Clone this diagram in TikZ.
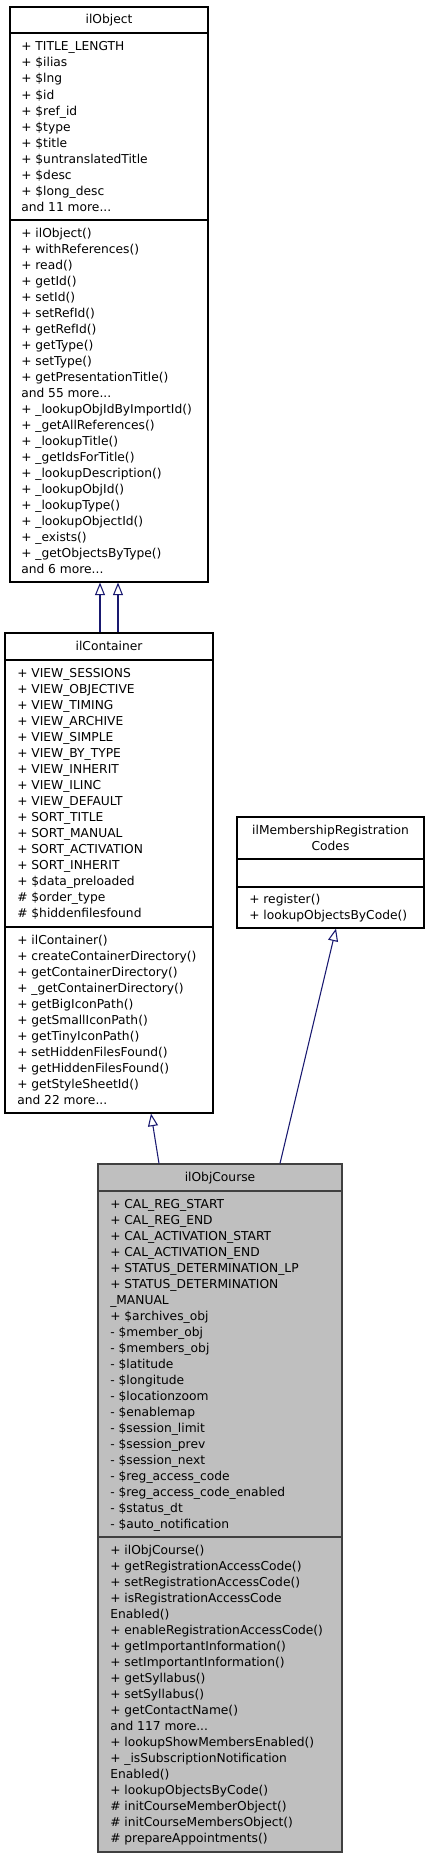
\documentclass[tikz,border=0pt]{standalone}
\usepackage{fontspec}
\setmainfont{DejaVu Sans}
\usetikzlibrary{arrows.meta,calc,fit}
\definecolor{edgeblue}{HTML}{191970}
\definecolor{curgrey}{HTML}{BFBFBF}
\tikzset{
	classbox/.style={draw=black, line width=0.8pt, inner sep=0pt, fit={#1}},
	sep/.style={draw=black, line width=0.8pt},
	member/.style={anchor=base west, inner sep=0pt, font=\fontsize{9.2}{11}\selectfont},
	ctitle/.style={anchor=base, inner sep=0pt, font=\fontsize{9.2}{11}\selectfont},
	inherit/.style={draw=edgeblue, line width=0.8pt, -{Triangle[open, length=9.5pt, width=7.5pt]}}
}
\newcommand\mydots{...}
% one line of text every 16px, first baseline at (#2,#3)
\def\members#1(#2,#3)#4{\foreach \t [count=\i from 0] in {#4} \node[member] (#1-\i) at (#2,{#3+16*\i}) {\t};}

\begin{document}
\begin{tikzpicture}[x=0.75pt, y=-0.75pt]
		%%%%% START %%%%%
		\useasboundingbox (0,0) rectangle (429,1859);
		
		% ilObject
		\node[classbox={(10,7) (208,582)}] (ilObject) {};
		\draw[sep] (10,33) -- (208,33);
		\draw[sep] (10,220) -- (208,220);
		\node[ctitle] (ilObject-t) at (109,24) {ilObject};
		\members{objA}(21,51){{+ TITLE\_LENGTH}, {+ \$ilias}, {+ \$lng}, {+ \$id}, {+ \$ref\_id}, {+ \$type}, {+ \$title}, {+ \$untranslatedTitle}, {+ \$desc}, {+ \$long\_desc}, {and 11 more\mydots}}
		\members{objM}(21,237){{+ ilObject()}, {+ withReferences()}, {+ read()}, {+ getId()}, {+ setId()}, {+ setRefId()}, {+ getRefId()}, {+ getType()}, {+ setType()}, {+ getPresentationTitle()}, {and 55 more\mydots}, {+ \_lookupObjIdByImportId()}, {+ \_getAllReferences()}, {+ \_lookupTitle()}, {+ \_getIdsForTitle()}, {+ \_lookupDescription()}, {+ \_lookupObjId()}, {+ \_lookupType()}, {+ \_lookupObjectId()}, {+ \_exists()}, {+ \_getObjectsByType()}, {and 6 more\mydots}}
		
		% ilContainer
		\node[classbox={(5,633) (213,1113)}] (ilContainer) {};
		\draw[sep] (5,660) -- (213,660);
		\draw[sep] (5,927) -- (213,927);
		\node[ctitle] (ilContainer-t) at (109,650) {ilContainer};
		\members{contA}(17,677){{+ VIEW\_SESSIONS}, {+ VIEW\_OBJECTIVE}, {+ VIEW\_TIMING}, {+ VIEW\_ARCHIVE}, {+ VIEW\_SIMPLE}, {+ VIEW\_BY\_TYPE}, {+ VIEW\_INHERIT}, {+ VIEW\_ILINC}, {+ VIEW\_DEFAULT}, {+ SORT\_TITLE}, {+ SORT\_MANUAL}, {+ SORT\_ACTIVATION}, {+ SORT\_INHERIT}, {+ \$data\_preloaded}, {\# \$order\_type}, {\# \$hiddenfilesfound}}
		\members{contM}(17,944){{+ ilContainer()}, {+ createContainerDirectory()}, {+ getContainerDirectory()}, {+ \_getContainerDirectory()}, {+ getBigIconPath()}, {+ getSmallIconPath()}, {+ getTinyIconPath()}, {+ setHiddenFilesFound()}, {+ getHiddenFilesFound()}, {+ getStyleSheetId()}, {and 22 more\mydots}}
		
		% ilMembershipRegistrationCodes
		\node[classbox={(237,817) (424,928)}] (regCodes) {};
		\draw[sep] (237,859) -- (424,859);
		\draw[sep] (237,887) -- (424,887);
		\node[ctitle] (regCodes-t0) at (330.5,834) {ilMembershipRegistration};
		\node[ctitle] (regCodes-t1) at (330.5,850) {Codes};
		\members{regM}(249,903){{+ register()}, {+ lookupObjectsByCode()}}
		
		% ilObjCourse
		\node[classbox={(98,1164) (342,1852)}, draw=black!75, fill=curgrey] (ilObjCourse) {};
		\draw[sep, draw=black!75] (98,1191) -- (342,1191);
		\draw[sep, draw=black!75] (98,1537) -- (342,1537);
		\node[ctitle] (ilObjCourse-t) at (220,1181) {ilObjCourse};
		\members{crsA}(110,1208){{+ CAL\_REG\_START}, {+ CAL\_REG\_END}, {+ CAL\_ACTIVATION\_START}, {+ CAL\_ACTIVATION\_END}, {+ STATUS\_DETERMINATION\_LP}, {+ STATUS\_DETERMINATION}, {\_MANUAL}, {+ \$archives\_obj}, {- \$member\_obj}, {- \$members\_obj}, {- \$latitude}, {- \$longitude}, {- \$locationzoom}, {- \$enablemap}, {- \$session\_limit}, {- \$session\_prev}, {- \$session\_next}, {- \$reg\_access\_code}, {- \$reg\_access\_code\_enabled}, {- \$status\_dt}, {- \$auto\_notification}}
		\members{crsM}(110,1554){{+ ilObjCourse()}, {+ getRegistrationAccessCode()}, {+ setRegistrationAccessCode()}, {+ isRegistrationAccessCode}, {Enabled()}, {+ enableRegistrationAccessCode()}, {+ getImportantInformation()}, {+ setImportantInformation()}, {+ getSyllabus()}, {+ setSyllabus()}, {+ getContactName()}, {and 117 more\mydots}, {+ lookupShowMembersEnabled()}, {+ \_isSubscriptionNotification}, {Enabled()}, {+ lookupObjectsByCode()}, {\# initCourseMemberObject()}, {\# initCourseMembersObject()}, {\# prepareAppointments()}}
		
		% inheritance
		\draw[inherit] ($(ilContainer.north)+(-9,0)$) -- ($(ilObject.south)+(-9,0)$);
		\draw[inherit] ($(ilContainer.north)+(9,0)$) -- ($(ilObject.south)+(9,0)$);
		\draw[inherit] ($(ilObjCourse.north)+(-61,0)$) -- ($(ilContainer.south)+(42,0)$);
		\draw[inherit] ($(ilObjCourse.north)+(60,0)$) -- ($(regCodes.south)+(5.5,0)$);
		%%%%% END %%%%%
\end{tikzpicture}
\end{document}
